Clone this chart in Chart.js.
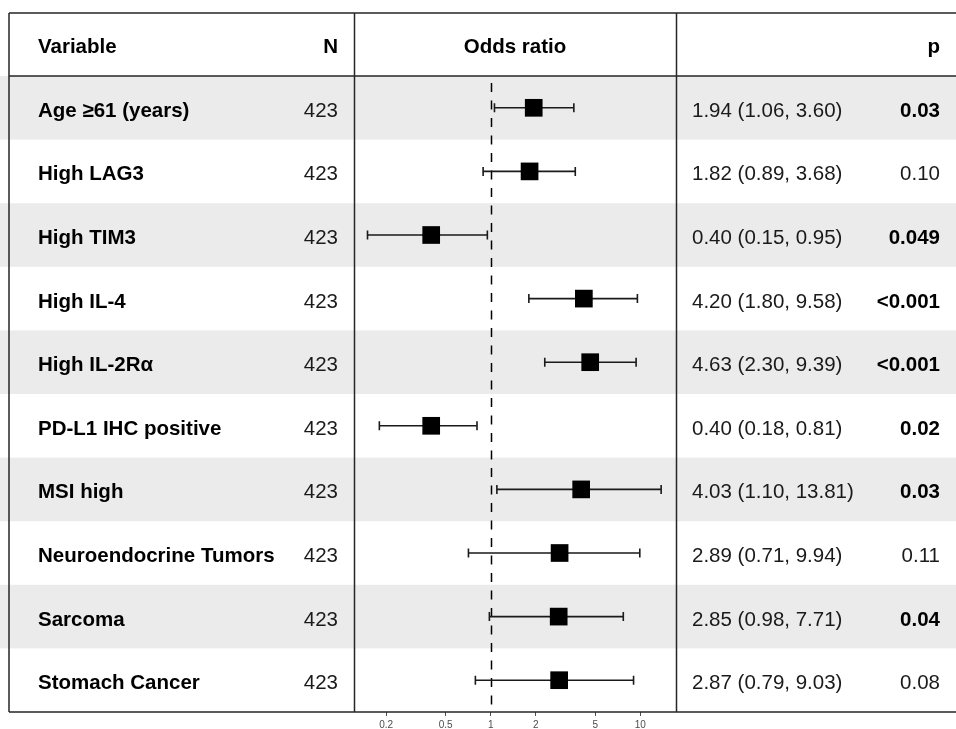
<!DOCTYPE html>
<html>
<head>
<meta charset="utf-8">
<script src="https://cdn.jsdelivr.net/npm/chart.js@4/dist/chart.umd.min.js"></script>
<style>
  html, body { margin: 0; padding: 0; background: #fff; }
</style>
</head>
<body>
<canvas id="c" width="956" height="729"></canvas>
<script>
// ---- data ----
const variables = ['Age \u226561 (years)', 'High LAG3', 'High TIM3', 'High IL-4', 'High IL-2R\u03b1',
  'PD-L1 IHC positive', 'MSI high', 'Neuroendocrine Tumors', 'Sarcoma', 'Stomach Cancer'];
const nValues = [423, 423, 423, 423, 423, 423, 423, 423, 423, 423];
const oddsRatio = [1.94, 1.82, 0.40, 4.20, 4.63, 0.40, 4.03, 2.89, 2.85, 2.87];
const ciLow = [1.06, 0.89, 0.15, 1.80, 2.30, 0.18, 1.10, 0.71, 0.98, 0.79];
const ciHigh = [3.60, 3.68, 0.95, 9.58, 9.39, 0.81, 13.81, 9.94, 7.71, 9.03];
const pLabels = ['0.03', '0.10', '0.049', '<0.001', '<0.001', '0.02', '0.03', '0.11', '0.04', '0.08'];
const xTicks = [0.2, 0.5, 1, 2, 5, 10];
const headers = { variable: 'Variable', n: 'N', or: 'Odds ratio', p: 'p' };

// ---- layout constants ----
const W = 956, H = 729;
const TOP = 13, HEAD_BOTTOM = 76, BOTTOM = 712, LEFT = 9;
const COL1 = 354, COL2 = 676;
const FONT = '"Liberation Sans", Arial, Helvetica, sans-serif';
const FS = 20.5;
const LINE = '#262626';

function pNum(s) { return s.startsWith('<') ? 0 : parseFloat(s); }

const tablePlugin = {
  id: 'table',
  beforeDraw(chart) {
    const ctx = chart.ctx;
    const y = chart.scales.y;
    ctx.save();
    ctx.fillStyle = '#fff';
    ctx.fillRect(0, 0, W, H);
    const half = (y.getPixelForValue(1) - y.getPixelForValue(0)) / 2;
    variables.forEach((v, i) => {
      if (i % 2 === 0) {
        const c = y.getPixelForValue(i);
        ctx.fillStyle = '#ebebeb';
        ctx.fillRect(0, c - half, W, half * 2);
      }
    });
    ctx.restore();
  },
  beforeDatasetsDraw(chart) {
    const ctx = chart.ctx;
    const x = chart.scales.x, y = chart.scales.y;
    ctx.save();
    // reference line at OR = 1
    const x1 = Math.round(x.getPixelForValue(1)) + 0.5;
    ctx.strokeStyle = '#000';
    ctx.lineWidth = 1.5;
    ctx.setLineDash([9, 8.5]);
    ctx.lineDashOffset = -7;
    ctx.beginPath();
    ctx.moveTo(x1, chart.chartArea.top);
    ctx.lineTo(x1, chart.chartArea.bottom);
    ctx.stroke();
    ctx.setLineDash([]);
    // confidence intervals
    ctx.strokeStyle = '#1a1a1a';
    ctx.lineWidth = 1.6;
    variables.forEach((v, i) => {
      const cy = y.getPixelForValue(i);
      const xl = x.getPixelForValue(ciLow[i]);
      const xh = x.getPixelForValue(ciHigh[i]);
      ctx.beginPath();
      ctx.moveTo(xl, cy); ctx.lineTo(xh, cy);
      ctx.moveTo(xl, cy - 4.5); ctx.lineTo(xl, cy + 4.5);
      ctx.moveTo(xh, cy - 4.5); ctx.lineTo(xh, cy + 4.5);
      ctx.stroke();
    });
    ctx.restore();
  },
  afterDraw(chart) {
    const ctx = chart.ctx;
    const y = chart.scales.y;
    ctx.save();
    // borders
    ctx.strokeStyle = LINE;
    ctx.lineWidth = 1.5;
    ctx.beginPath();
    ctx.moveTo(LEFT, TOP); ctx.lineTo(W, TOP);
    ctx.moveTo(LEFT, HEAD_BOTTOM); ctx.lineTo(W, HEAD_BOTTOM);
    ctx.moveTo(LEFT, BOTTOM); ctx.lineTo(W, BOTTOM);
    ctx.moveTo(LEFT, TOP); ctx.lineTo(LEFT, BOTTOM);
    ctx.moveTo(COL1 + 0.5, TOP); ctx.lineTo(COL1 + 0.5, BOTTOM);
    ctx.moveTo(COL2 + 0.5, TOP); ctx.lineTo(COL2 + 0.5, BOTTOM);
    ctx.stroke();

    // header text
    const hb = (TOP + HEAD_BOTTOM) / 2 + 8.5;
    ctx.fillStyle = '#000';
    ctx.font = 'bold ' + FS + 'px ' + FONT;
    ctx.textBaseline = 'alphabetic';
    ctx.textAlign = 'left';
    ctx.fillText(headers.variable, 38, hb);
    ctx.textAlign = 'right';
    ctx.fillText(headers.n, 338, hb);
    ctx.textAlign = 'center';
    ctx.fillText(headers.or, (COL1 + COL2) / 2, hb);
    ctx.textAlign = 'right';
    ctx.fillText(headers.p, 940, hb);

    // rows
    variables.forEach((v, i) => {
      const b = y.getPixelForValue(i) + 9;
      ctx.fillStyle = '#000';
      ctx.font = 'bold ' + FS + 'px ' + FONT;
      ctx.textAlign = 'left';
      ctx.fillText(v, 38, b);
      ctx.fillStyle = '#1a1a1a';
      ctx.font = FS + 'px ' + FONT;
      ctx.textAlign = 'right';
      ctx.fillText(String(nValues[i]), 338, b);
      ctx.textAlign = 'left';
      const est = oddsRatio[i].toFixed(2) + ' (' + ciLow[i].toFixed(2) + ', ' + ciHigh[i].toFixed(2) + ')';
      ctx.fillText(est, 692, b);
      ctx.textAlign = 'right';
      const bold = pNum(pLabels[i]) < 0.05;
      ctx.fillStyle = bold ? '#000' : '#1a1a1a';
      ctx.font = (bold ? 'bold ' : '') + FS + 'px ' + FONT;
      ctx.fillText(pLabels[i], 940, b);
    });
    ctx.restore();
  }
};

const points = variables.map((v, i) => ({ x: oddsRatio[i], y: i }));

new Chart(document.getElementById('c'), {
  type: 'scatter',
  data: {
    datasets: [{
      data: points,
      pointStyle: 'rect',
      pointRadius: 12.5,
      pointHoverRadius: 12.5,
      backgroundColor: '#000',
      borderWidth: 0
    }]
  },
  options: {
    responsive: false,
    animation: false,
    events: [],
    layout: { padding: { left: 355, right: W - 676, top: HEAD_BOTTOM, bottom: 0 } },
    plugins: { legend: { display: false }, tooltip: { enabled: false } },
    scales: {
      x: {
        type: 'logarithmic',
        min: 0.1237,
        max: 17.36,
        bounds: 'data',
        afterBuildTicks(scale) { scale.ticks = xTicks.map(v => ({ value: v })); },
        afterFit(scale) { scale.height = 17; },
        border: { display: false },
        grid: { display: true, drawOnChartArea: false, drawTicks: true, tickLength: 4, color: '#4d4d4d', lineWidth: 1 },
        ticks: {
          autoSkip: false,
          maxRotation: 0,
          padding: 3.5,
          color: '#4d4d4d',
          font: { family: FONT, size: 10 },
          callback: (v) => String(v)
        }
      },
      y: {
        type: 'category',
        labels: variables.map((v, i) => i),
        offset: true,
        display: false,
        min: 0,
        max: variables.length - 1
      }
    }
  },
  plugins: [tablePlugin]
});
</script>
</body>
</html>
